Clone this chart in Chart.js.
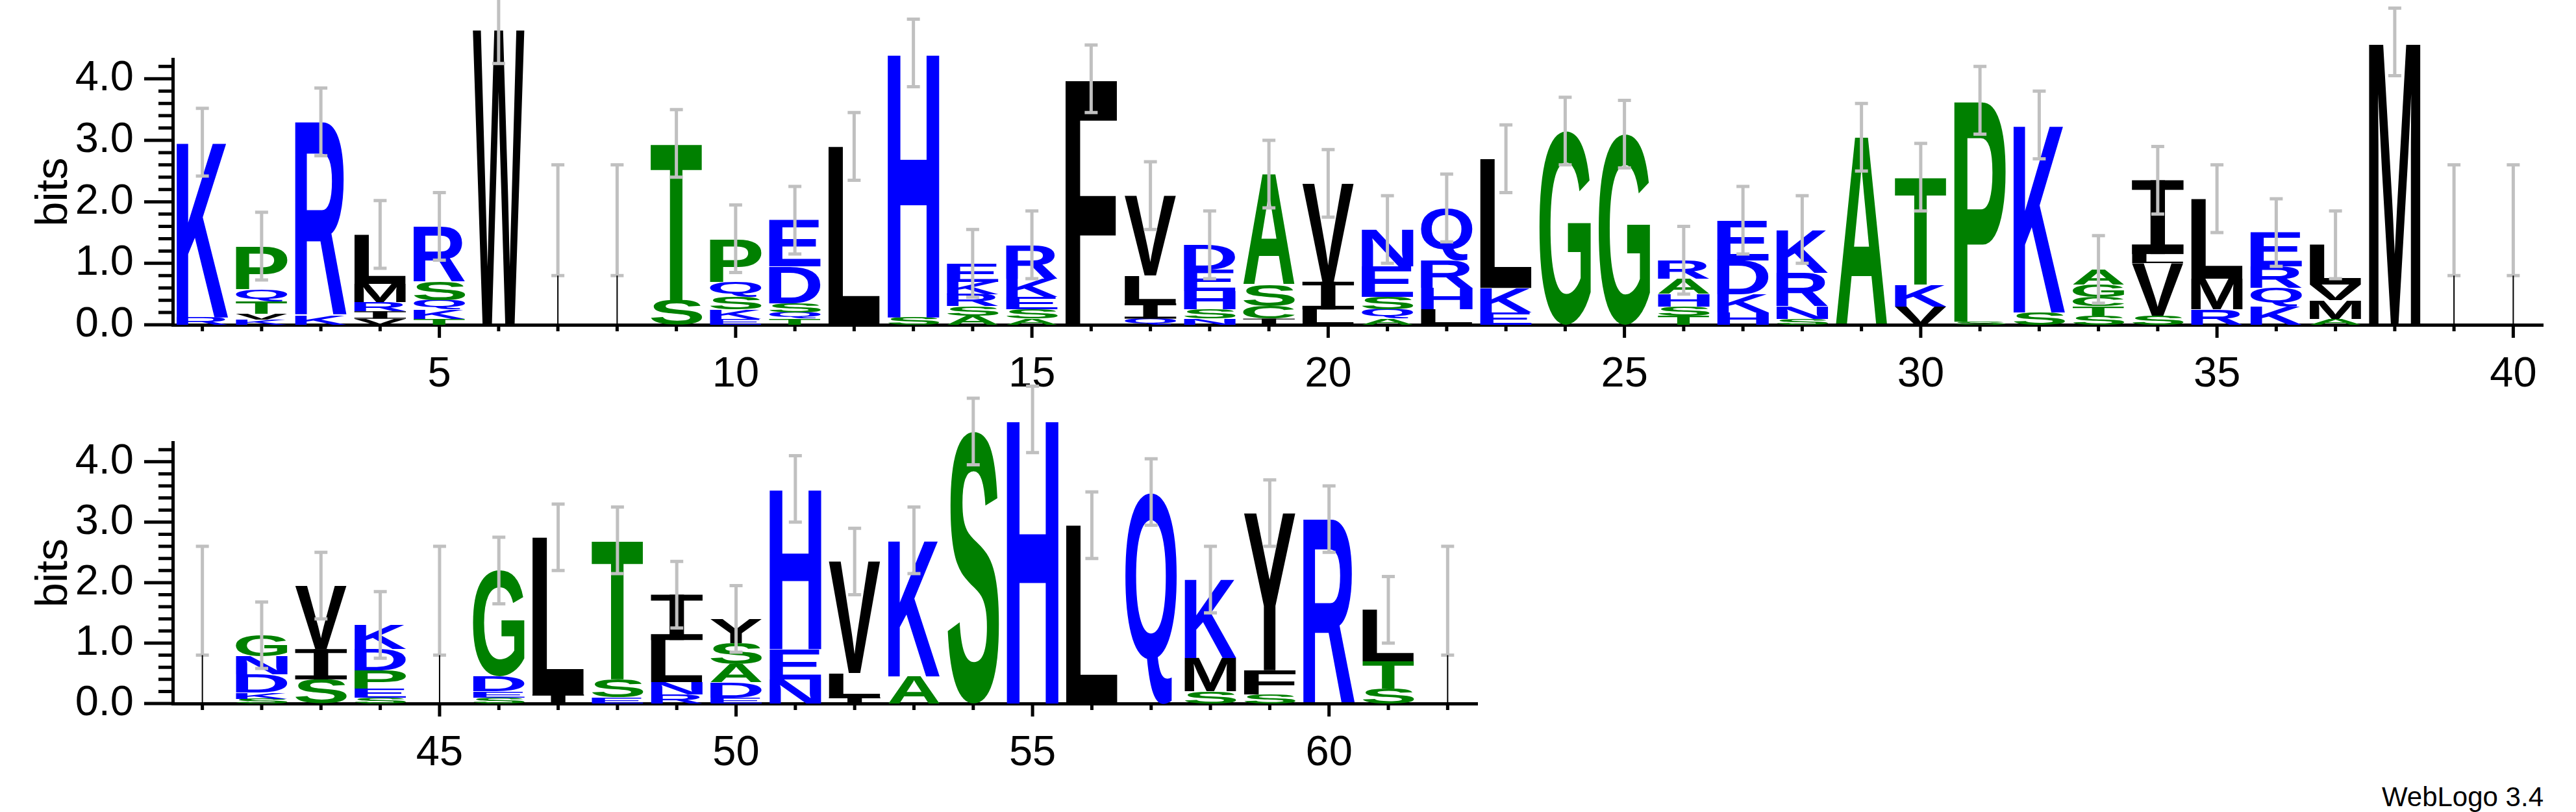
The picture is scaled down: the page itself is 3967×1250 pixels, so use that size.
<!DOCTYPE html>
<html>
<head>
<meta charset="utf-8">
<script src="https://cdn.jsdelivr.net/npm/chart.js@4"></script>
<style>
  body { margin: 0; background: #fff; width: 3967px; height: 1250px; position: relative; overflow: hidden; }
  .box { position: absolute; left: 0; }
  #credit { position: absolute; right: 50px; top: 1203px; font: 42px "Liberation Sans", Arial, sans-serif; }
</style>
</head>
<body>
<div class="box" style="top:0;width:3967px;height:620px"><canvas id="logo1"></canvas></div>
<div class="box" style="top:590px;width:2290px;height:613px"><canvas id="logo2"></canvas></div>
<div id="credit">WebLogo 3.4</div>
<script>
// letters per position, bottom to top, with their heights in bits
const row1Letters = ["RK","KVTQP","KR","VIRML","TKQSR","W","","","ST","EKSQP",
  "TQSDE","L","SH","ASRKE","ASEKR","F","QILV","NSHED","ICSA","LIV",
  "AQSEN","LHRQ","EKL","G","G","TSHAR","HKDE","SNRK","A","VKT",
  "SP","SK","STCGA","SVLI","RML","KQRE","AMVL","M","",""];
const row1Heights = [[0.12,2.85],[0.08,0.1,0.2,0.2,0.7],[0.15,3.15],[0.1,0.12,0.15,0.3,0.8],[0.1,0.15,0.15,0.3,0.9],
  [4.8],[],[],[0.4,2.55],[0.1,0.15,0.2,0.25,0.7],
  [0.1,0.1,0.15,0.6,0.75],[2.9],[0.12,4.3],[0.15,0.15,0.2,0.2,0.3],[0.1,0.15,0.2,0.3,0.55],
  [4.0],[0.1,0.25,0.45,1.3],[0.1,0.15,0.3,0.35,0.4],[0.1,0.2,0.35,1.8],[0.25,0.45,1.6],
  [0.1,0.15,0.2,0.5,0.6],[0.25,0.35,0.45,0.85],[0.2,0.4,2.1],[3.15],[3.1],
  [0.15,0.15,0.2,0.25,0.3],[0.2,0.3,0.55,0.65],[0.1,0.2,0.55,0.7],[3.05],[0.3,0.35,1.75],
  [0.05,3.6],[0.2,3.05],[0.15,0.15,0.15,0.2,0.25],[0.15,0.85,0.15,1.2],[0.25,0.5,1.3],
  [0.3,0.3,0.35,0.55],[0.1,0.3,0.25,0.65],[4.6],[],[]];
const row2Letters = ["","SKDNG","SIV","SEPDK","","SEDG","IL","EST","RNLI","EDASY",
  "NEH","ILV","AK","S","H","L","Q","SMK","SFY","R","STL",""];
const row2Heights = [[],[0.08,0.1,0.3,0.3,0.35],[0.4,0.5,1.05],[0.1,0.15,0.3,0.35,0.4],[],[0.1,0.1,0.25,1.75],
  [0.15,2.6],[0.1,0.3,2.3],[0.15,0.2,0.7,0.75],[0.1,0.25,0.3,0.35,0.4],
  [0.4,0.5,2.65],[0.1,0.4,1.85],[0.45,2.25],[4.5],[4.7],[2.95],[3.5],[0.2,0.55,1.3],[0.15,0.4,2.6],[3.05],[0.25,0.45,0.85],[]];
const row1Positions = Array.from({length: 40}, (_, i) => String(i + 1));
const row2Positions = Array.from({length: 22}, (_, i) => String(i + 41));
const errHalf = 0.55;
const emptyErr = [0.8, 2.6];
const yMajorTicks = [0, 1, 2, 3, 4];

const letterColors = {};
"KRHDENQ".split("").forEach(c => letterColors[c] = "#0000ff");
"GSTAPC".split("").forEach(c => letterColors[c] = "#008000");
"LIVMFWY".split("").forEach(c => letterColors[c] = "#000000");

const letterPlugin = {
  id: "letters",
  afterDatasetsDraw(chart) {
    const ctx = chart.ctx;
    const letters = chart.options.plugins.letters.letters;
    chart.data.datasets.forEach((ds, k) => {
      chart.getDatasetMeta(k).data.forEach((bar, i) => {
        const ch = letters[i][k];
        if (!ch || !ds.data[i]) return;
        const p = bar.getProps(["x", "y", "base", "width"], true);
        const h = Math.abs(p.base - p.y);
        if (h < 0.5) return;
        const left = p.x - p.width / 2;
        ctx.save();
        ctx.fillStyle = letterColors[ch] || "#000";
        if (ch === "I") {
          // serif I as in the WebLogo font
          const bh = Math.max(1, h * 0.13), sw = p.width * 0.28;
          ctx.fillRect(left, p.y, p.width, bh);
          ctx.fillRect(left, p.base - bh, p.width, bh);
          ctx.fillRect(p.x - sw / 2, p.y, sw, h);
          ctx.restore();
          return;
        }
        ctx.font = 'bold 200px "Liberation Sans", Arial, sans-serif';
        const m = ctx.measureText(ch);
        const gw = m.actualBoundingBoxLeft + m.actualBoundingBoxRight;
        const gh = m.actualBoundingBoxAscent + m.actualBoundingBoxDescent;
        ctx.translate(left, p.base);
        ctx.scale(p.width / gw, h / gh);
        ctx.fillText(ch, m.actualBoundingBoxLeft, -m.actualBoundingBoxDescent);
        ctx.restore();
      });
    });
    // error bars
    const ys = chart.scales.y, xs = chart.scales.x;
    const heights = chart.options.plugins.letters.heights;
    ctx.save();
    ctx.strokeStyle = "#c0c0c0";
    ctx.lineWidth = 5;
    heights.forEach((hs, i) => {
      const tot = hs.reduce((a, b) => a + b, 0);
      const lo = tot > 0 ? Math.max(0, tot - errHalf) : emptyErr[0];
      const hi = tot > 0 ? tot + errHalf : emptyErr[1];
      const x = xs.getPixelForValue(i);
      const y1 = ys.getPixelForValue(lo), y2 = ys.getPixelForValue(hi);
      ctx.beginPath();
      ctx.moveTo(x, y1); ctx.lineTo(x, y2);
      ctx.moveTo(x - 10, y1); ctx.lineTo(x + 10, y1);
      ctx.moveTo(x - 10, y2); ctx.lineTo(x + 10, y2);
      ctx.stroke();
      if (tot === 0) {
        ctx.save();
        ctx.strokeStyle = "#000"; ctx.lineWidth = 2;
        ctx.beginPath(); ctx.moveTo(x, ys.getPixelForValue(0)); ctx.lineTo(x, y1); ctx.stroke();
        ctx.restore();
      }
    });
    ctx.restore();
  },
  afterDraw(chart) {
    // axis tick marks: minor every 0.2 bits, longer at whole bits; x ticks longer every 5
    const ctx = chart.ctx, ys = chart.scales.y, xs = chart.scales.x;
    ctx.save();
    ctx.strokeStyle = "#000";
    ctx.lineWidth = 5;
    ctx.beginPath();
    for (let t = 0; t <= 21; t++) {
      const v = t / 5;
      if (v > ys.max) break;
      const y = ys.getPixelForValue(v);
      const len = t % 5 === 0 ? 44 : 22;
      ctx.moveTo(ys.right - len, y); ctx.lineTo(ys.right, y);
    }
    chart.data.labels.forEach((lab, i) => {
      const x = xs.getPixelForValue(i);
      const len = Number(lab) % 5 === 0 ? 20 : 10;
      ctx.moveTo(x, xs.top); ctx.lineTo(x, xs.top + len);
    });
    ctx.stroke();
    ctx.restore();
  }
};

function makeLogo(id, positions, letters, heights, topPad, rightPad) {
  const layers = Math.max(...heights.map(h => h.length));
  const datasets = [];
  for (let k = 0; k < layers; k++) {
    datasets.push({
      data: heights.map(h => h[k] || 0),
      backgroundColor: "rgba(0,0,0,0)",
      borderWidth: 0,
      barPercentage: 0.87,
      categoryPercentage: 1.0
    });
  }
  const tickFont = {family: '"Liberation Sans", Arial, sans-serif', size: 65};
  return new Chart(document.getElementById(id), {
    type: "bar",
    data: {labels: positions, datasets: datasets},
    plugins: [letterPlugin],
    options: {
      responsive: true,
      maintainAspectRatio: false,
      animation: false,
      layout: {padding: {top: topPad, right: rightPad}},
      plugins: {
        legend: {display: false},
        tooltip: {enabled: false},
        letters: {letters: letters, heights: heights}
      },
      scales: {
        x: {
          stacked: true,
          afterFit: s => { s.height = 120; },
          border: {color: "#000", width: 5},
          grid: {display: false},
          ticks: {
            autoSkip: false, maxRotation: 0, color: "#000", font: tickFont, padding: 30,
            callback: (v, i) => Number(positions[i]) % 5 === 0 ? positions[i] : ""
          }
        },
        y: {
          stacked: true,
          min: 0,
          max: 4.32,
          afterFit: s => { s.width = 266; },
          afterBuildTicks: s => { s.ticks = yMajorTicks.map(v => ({value: v})); },
          border: {color: "#000", width: 5},
          grid: {display: false},
          ticks: {color: "#000", font: tickFont, padding: 52, callback: v => Number(v).toFixed(1)},
          title: {display: true, text: "bits", color: "#000", padding: {top: 43, bottom: 0},
            font: {family: '"Liberation Sans", Arial, sans-serif', size: 68}}
        }
      }
    }
  });
}

makeLogo("logo1", row1Positions, row1Letters, row1Heights, 50, 51);
makeLogo("logo2", row2Positions, row2Letters, row2Heights, 43, 15);
</script>
</body>
</html>
